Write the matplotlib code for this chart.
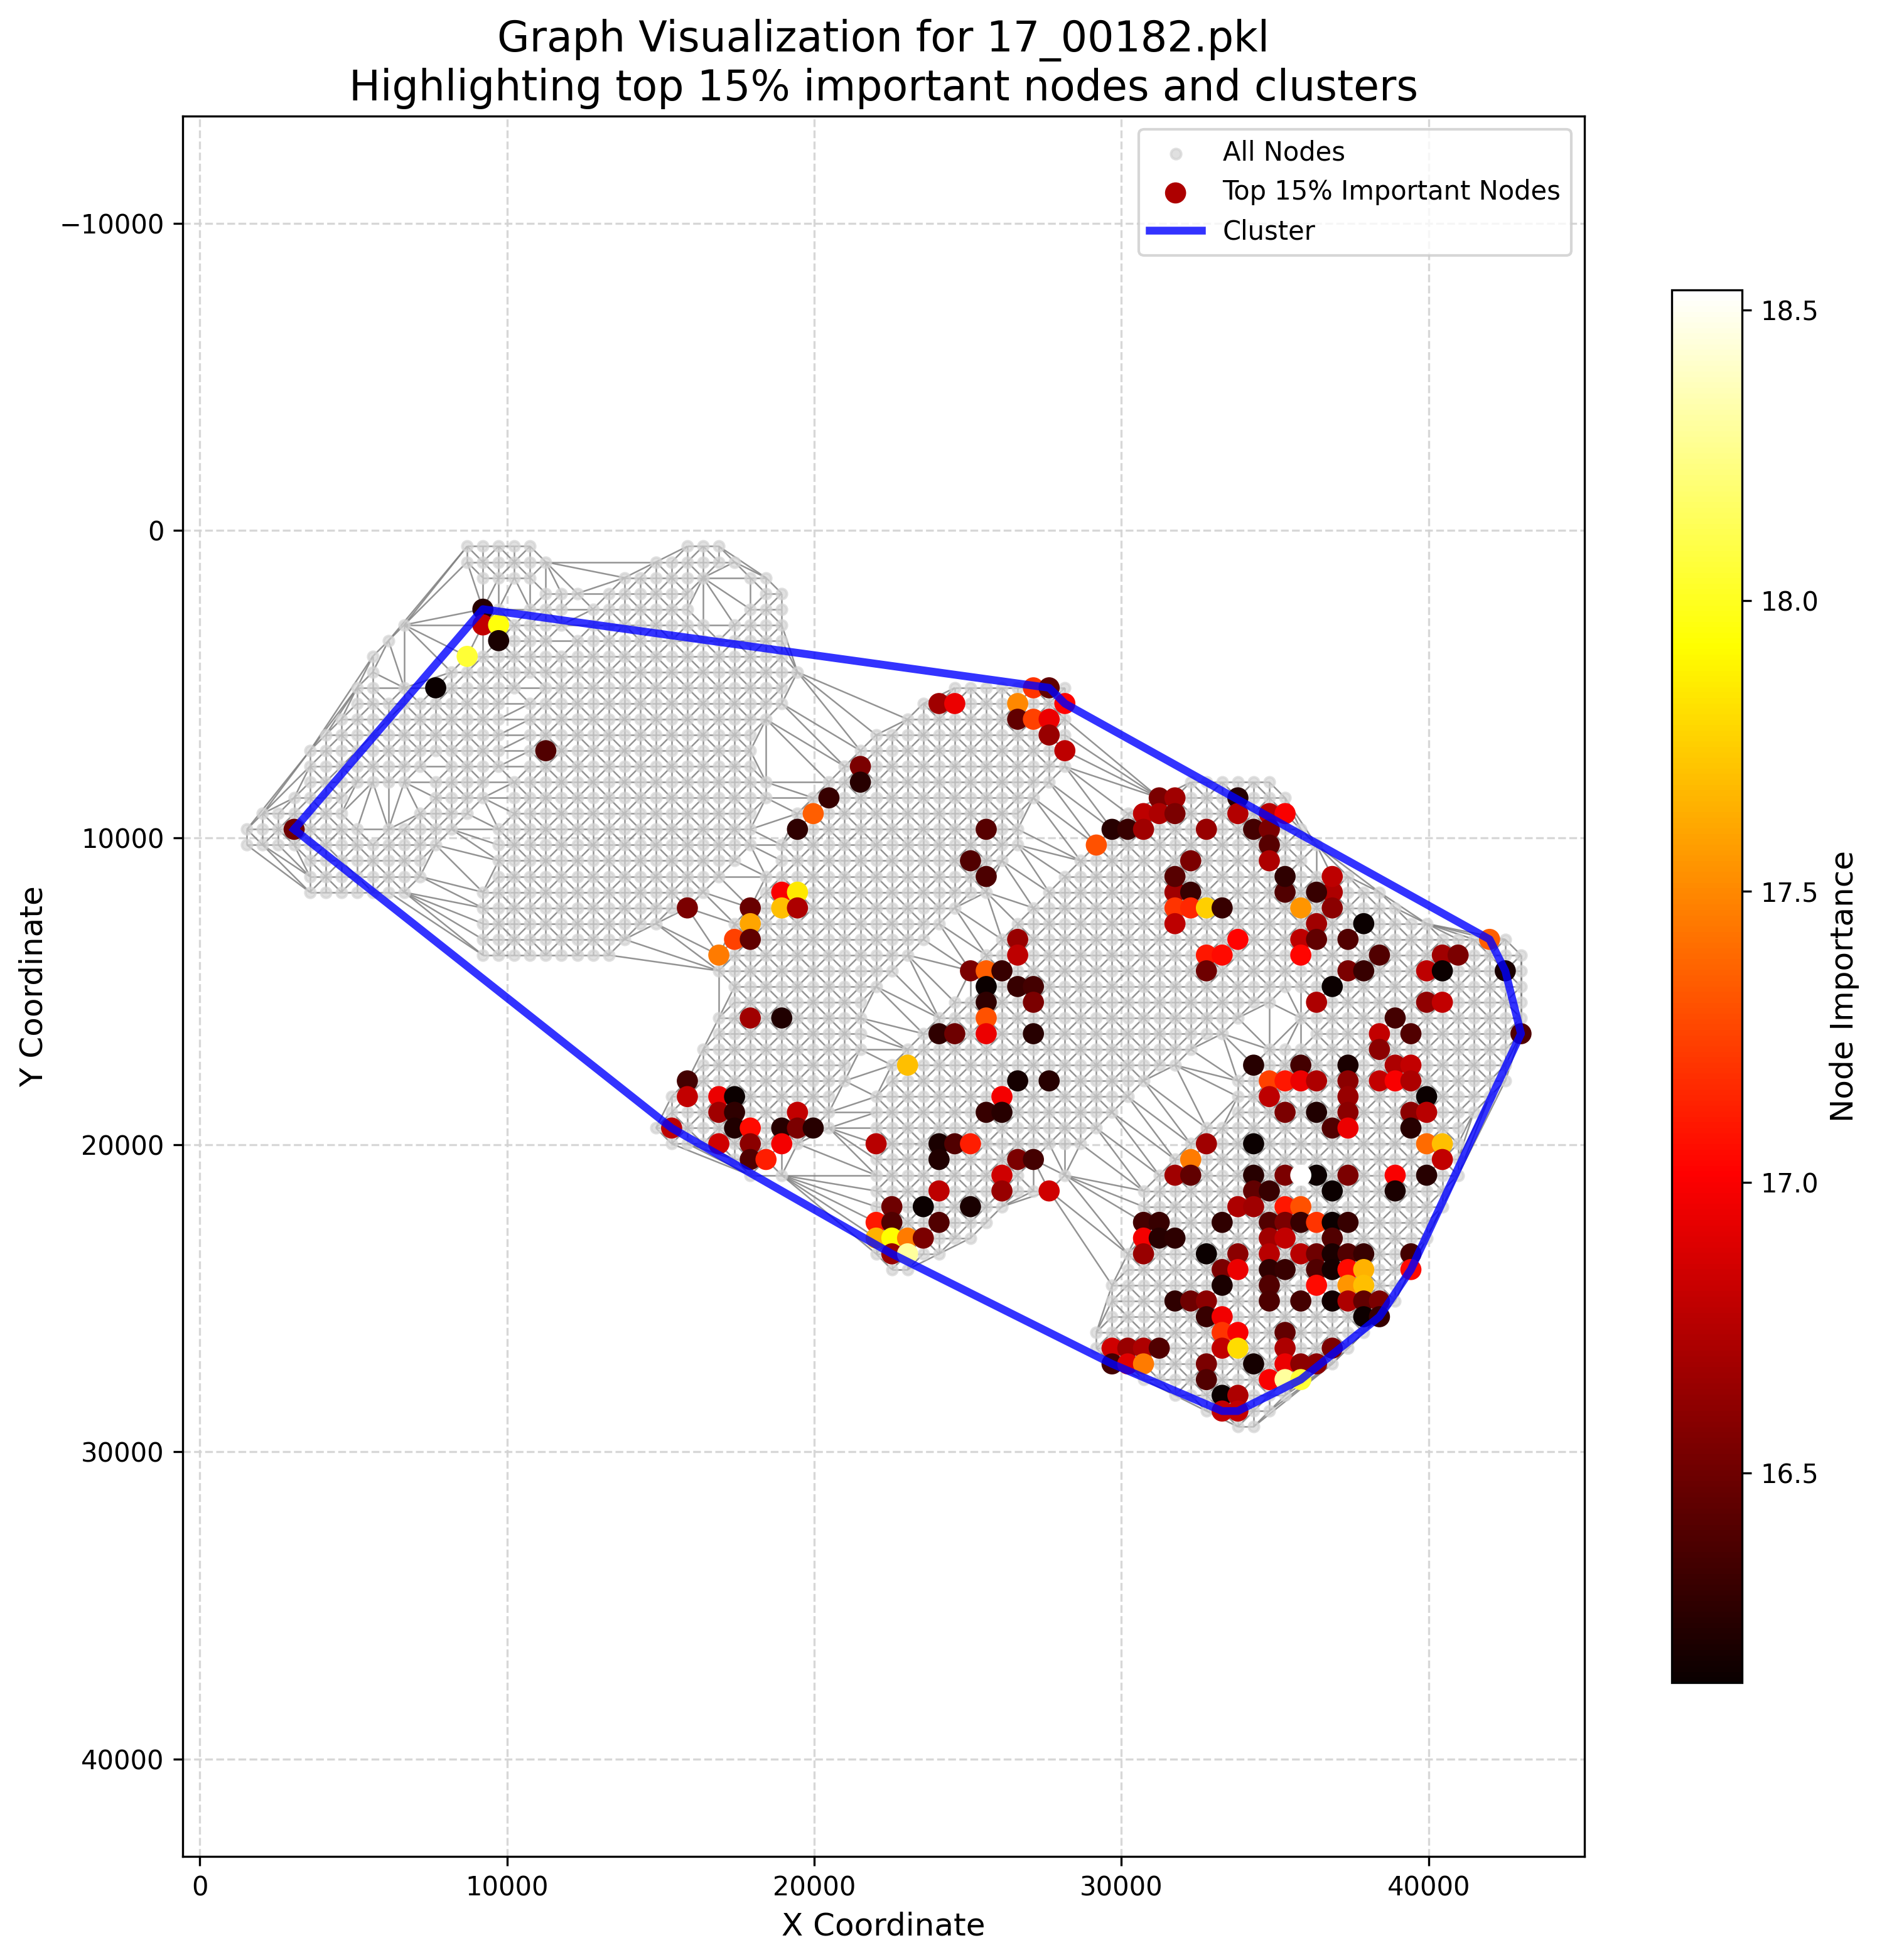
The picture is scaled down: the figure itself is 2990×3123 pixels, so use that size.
import matplotlib
matplotlib.use("Agg")
import matplotlib.pyplot as plt
from matplotlib.collections import LineCollection
from matplotlib.tri import Triangulation
import numpy as np

GRID_STEP = 512
MAX_EDGE_CELLS = 8.0
DIAGONAL_SWITCH_COL = 21

# Patch nodes as inclusive column runs, one entry per grid row.
node_rows = list(range(1, 58))
node_runs = [
    [(17, 21), (31, 33)],
    [(17, 22), (29, 34)],
    [(18, 21), (27, 32), (35, 36)],
    [(22, 24), (26, 31), (36, 37)],
    [(18, 19), (21, 23), (25, 31), (35, 37)],
    [(13, 13), (18, 23), (25, 32), (34, 37)],
    [(12, 12), (19, 22), (24, 37)],
    [(11, 11), (17, 37)],
    [(11, 11), (16, 38)],
    [(10, 11), (13, 13), (15, 20), (22, 37), (48, 55)],
    [(10, 19), (21, 37), (46, 55)],
    [(9, 19), (21, 36), (45, 55)],
    [(8, 19), (21, 35), (43, 55)],
    [(7, 19), (21, 35), (42, 55)],
    [(7, 14), (16, 19), (21, 35), (41, 55)],
    [(7, 13), (15, 18), (20, 36), (40, 54), (63, 68)],
    [(6, 9), (15, 18), (20, 36), (39, 53), (61, 69)],
    [(4, 9), (14, 17), (20, 35), (38, 52), (59, 69)],
    [(3, 10), (12, 16), (19, 35), (38, 52), (58, 70)],
    [(3, 15), (19, 35), (37, 52), (57, 71)],
    [(7, 14), (19, 34), (37, 51), (56, 70)],
    [(7, 14), (19, 33), (36, 50), (55, 73)],
    [(7, 13), (18, 32), (36, 50), (54, 75)],
    [(18, 31), (35, 48), (53, 76)],
    [(18, 29), (34, 47), (52, 78)],
    [(18, 27), (34, 46), (51, 83)],
    [(18, 26), (33, 45), (50, 84)],
    [(33, 44), (49, 84)],
    [(34, 43), (50, 84)],
    [(34, 42), (48, 68), (71, 84)],
    [(33, 42), (47, 66), (70, 84)],
    [(33, 42), (46, 65), (71, 84)],
    [(32, 42), (45, 63), (68, 83)],
    [(32, 41), (44, 62), (67, 83)],
    [(31, 41), (44, 60), (66, 83)],
    [(30, 40), (43, 59), (66, 82)],
    [(30, 40), (43, 58), (66, 81)],
    [(29, 40), (43, 57), (64, 80)],
    [(30, 38), (43, 56), (63, 80)],
    [(34, 36), (43, 53), (62, 80)],
    [(35, 35), (37, 37), (43, 52), (55, 55), (61, 80)],
    [(43, 54), (60, 79)],
    [(43, 51), (60, 79)],
    [(43, 50), (60, 78)],
    [(43, 49), (60, 78)],
    [(43, 47), (59, 77)],
    [(44, 45), (59, 77)],
    [(58, 76)],
    [(58, 76)],
    [(58, 75)],
    [(57, 74)],
    [(57, 73)],
    [(58, 72)],
    [(60, 70)],
    [(62, 69)],
    [(64, 68)],
    [(66, 67)],
]

# Highest-scoring nodes, grouped by grid row.
important_rows = [23, 5, 6, 7, 8, 10, 11, 12, 13, 14, 15, 16, 17, 18, 19, 20, 21, 22, 24, 25,
                  26, 27, 28, 29, 30, 31, 32, 33, 34, 35, 36, 37, 38, 39, 40, 41, 42, 43, 44,
                  45, 46, 47, 48, 49, 50, 51, 52, 53, 54, 55, 56]
important_cols = [
    [72, 37, 38, 62, 63, 69, 71], [18], [18, 19], [19], [17], [15, 53, 54],
    [47, 48, 52, 55], [52, 53, 54], [54], [22, 55], [42], [42], [40, 61, 62, 66],
    [39, 60, 61, 62, 66, 68, 69], [6, 38, 50, 58, 59, 60, 64, 67, 68], [57, 68], [49, 63, 68],
    [50, 62, 69, 72], [31, 35, 37, 38, 62, 63, 64, 65, 70, 72], [35, 62, 71, 74],
    [34, 35, 52, 66, 70, 71, 73, 82], [33, 52, 64, 65, 70, 75, 79, 80],
    [49, 50, 51, 64, 73, 74, 78, 79, 83], [50, 52, 53, 72], [50, 53, 71, 78, 79],
    [35, 37, 50, 76], [47, 48, 50, 53, 75, 77, 84], [75], [45, 67, 70, 73, 76, 77],
    [31, 52, 54, 68, 69, 70, 71, 73, 75, 76, 77], [31, 33, 34, 51, 68, 73, 78],
    [33, 34, 38, 50, 51, 69, 71, 73, 77, 78], [30, 34, 35, 37, 38, 39, 72, 73, 77],
    [33, 35, 37, 43, 47, 48, 49, 64, 67, 78, 79], [35, 36, 47, 52, 53, 63, 79],
    [51, 62, 63, 67, 69, 71, 73, 76, 78, 70], [47, 51, 54, 67, 68, 72, 76],
    [44, 46, 49, 66, 67, 69, 70], [43, 44, 47, 60, 61, 65, 68, 69, 70, 71, 72, 73],
    [43, 44, 45, 46, 60, 61, 62, 68, 69, 72], [44, 45, 60, 64, 66, 68, 70, 71, 72, 73, 74, 77],
    [65, 66, 68, 69, 71, 72, 73, 74, 77], [65, 68, 71, 73, 74],
    [62, 63, 64, 68, 70, 72, 73, 74, 75], [64, 65, 74, 75], [65, 66, 69],
    [58, 59, 60, 61, 65, 66, 69, 72], [58, 59, 60, 64, 67, 69, 70, 71], [64, 68, 69, 70],
    [65, 66], [65, 66],
]
important_scores = [
    [16.72, 17.0, 17.85, 16.68, 16.3, 16.4, 16.3], [16.25], [16.8, 17.95], [16.2], [18.05],
    [16.14, 17.2, 16.45], [16.68, 16.95, 17.5, 17.02], [16.45, 17.25, 16.95], [16.65],
    [16.4, 16.78], [16.55], [16.25], [16.3, 16.55, 16.68, 16.25],
    [17.35, 16.78, 16.72, 16.55, 16.74, 16.76, 17.0],
    [16.5, 16.28, 16.42, 16.25, 16.3, 16.68, 16.65, 16.35, 16.55], [17.3, 16.42], [16.4, 16.55, 16.72],
    [16.38, 16.42, 16.28, 16.78], [16.55, 16.48, 17.7, 16.72, 17.2, 17.15, 17.75, 16.3, 17.55, 16.6],
    [17.6, 16.78, 16.68, 16.14], [17.25, 16.45, 16.65, 17.02, 16.78, 16.45, 16.4, 17.35],
    [17.45, 16.78, 17.1, 17.05, 17.03, 16.4, 16.68, 16.55],
    [16.55, 17.35, 16.3, 16.5, 16.55, 16.3, 16.78, 16.14, 16.2], [16.14, 16.3, 16.35, 16.14],
    [16.28, 16.55, 16.72, 16.62, 16.8], [16.68, 16.22, 17.3, 16.35],
    [16.28, 16.5, 16.95, 16.25, 16.8, 16.4, 16.4], [16.6], [17.7, 16.25, 16.35, 16.2, 16.72, 16.8],
    [16.35, 16.18, 16.25, 17.25, 17.1, 16.95, 16.72, 16.6, 16.8, 17.0, 16.72],
    [16.8, 16.95, 16.14, 16.98, 16.78, 16.65, 16.14],
    [16.68, 16.28, 16.8, 16.3, 16.25, 16.55, 16.22, 16.6, 16.6, 16.76],
    [16.78, 16.22, 17.05, 16.25, 16.55, 16.25, 16.4, 16.95, 16.25],
    [16.85, 16.6, 16.98, 16.76, 16.2, 16.4, 17.12, 16.68, 16.14, 17.4, 17.7],
    [16.4, 17.12, 16.22, 16.55, 16.35, 17.45, 16.8],
    [16.85, 16.68, 16.45, 16.25, 16.55, 16.14, 16.55, 17.0, 16.25, 18.53],
    [16.78, 16.65, 16.85, 16.45, 16.3, 16.14, 16.2],
    [16.5, 16.14, 16.2, 16.72, 16.68, 17.1, 17.3],
    [17.1, 16.4, 16.4, 16.35, 16.3, 16.28, 16.4, 16.55, 16.3, 17.2, 16.14, 16.3],
    [17.65, 17.92, 17.45, 16.55, 16.98, 16.25, 16.27, 16.68, 16.8, 16.4],
    [16.65, 18.3, 16.65, 16.14, 16.6, 16.76, 16.76, 16.5, 16.2, 16.4, 16.3, 16.35],
    [16.55, 16.95, 16.28, 16.3, 16.4, 16.18, 17.05, 17.65, 17.05],
    [16.2, 16.4, 17.05, 17.55, 17.7],
    [16.28, 16.5, 16.6, 16.38, 16.35, 16.17, 16.72, 16.45, 16.55],
    [16.3, 16.97, 16.15, 16.3], [17.2, 17.0, 16.45],
    [16.85, 16.65, 16.72, 16.4, 16.8, 17.8, 16.72, 16.55],
    [16.35, 16.9, 17.45, 16.55, 16.18, 16.95, 16.6, 16.6],
    [16.4, 17.0, 18.3, 18.05], [16.14, 16.72], [16.8, 16.8],
]

# Cluster boundary vertices in grid units.
hull_cols = [6, 18, 54, 55, 82, 83, 84, 77, 75, 70, 66, 65, 58, 44, 30, 6]
hull_rows = [19, 5, 10, 11, 26, 28, 32, 47, 50, 54, 56, 56, 53, 46, 38, 19]

x_ticks = [0, 10000, 20000, 30000, 40000]
y_ticks = [-10000, 0, 10000, 20000, 30000, 40000]
score_ticks = [16.5, 17.0, 17.5, 18.0, 18.5]
SCORE_MIN, SCORE_MAX = 16.14, 18.534

imp_col = np.array([c for row in important_cols for c in row])
imp_row = np.array([r for r, row in zip(important_rows, important_cols) for _ in row])
imp_score = np.array([s for row in important_scores for s in row])

node_set = {(int(c), int(r)) for c, r in zip(imp_col, imp_row)}
for r, runs in zip(node_rows, node_runs):
    for a, b in runs:
        node_set.update((c, r) for c in range(a, b + 1))
nodes = sorted(node_set)
index = {n: k for k, n in enumerate(nodes)}
node_col = np.array([n[0] for n in nodes], float)
node_row = np.array([n[1] for n in nodes], float)


def link(edge_set, p, q):
    a, b = index.get(p), index.get(q)
    if a is not None and b is not None:
        edge_set.add((min(a, b), max(a, b)))


# Edges: grid links, one diagonal per full cell, and Delaunay links bridging patch gaps.
edges = set()
for c, r in nodes:
    link(edges, (c, r), (c + 1, r))
    link(edges, (c, r), (c, r + 1))
for c in range(int(node_col.min()) - 1, int(node_col.max()) + 1):
    for r in range(int(node_row.min()) - 1, int(node_row.max()) + 1):
        corners = [(c, r), (c + 1, r), (c, r + 1), (c + 1, r + 1)]
        if all(p in index for p in corners):
            parity = 0 if c < DIAGONAL_SWITCH_COL else 1
            if (c + r) % 2 == parity:
                link(edges, (c, r), (c + 1, r + 1))
            else:
                link(edges, (c + 1, r), (c, r + 1))
        else:
            link(edges, (c, r), (c + 1, r + 1))
            link(edges, (c + 1, r), (c, r + 1))
tri = Triangulation(node_col + 1e-4 * node_row, node_row + 1e-4 * node_col)
for a, b in tri.edges:
    length = np.hypot(node_col[a] - node_col[b], node_row[a] - node_row[b])
    if 1.5 < length <= MAX_EDGE_CELLS:
        edges.add((min(a, b), max(a, b)))
segments = [[(node_col[a] * GRID_STEP, node_row[a] * GRID_STEP),
             (node_col[b] * GRID_STEP, node_row[b] * GRID_STEP)] for a, b in edges]

W, H = 2990, 3123
fig = plt.figure(figsize=(W / 300, H / 300), dpi=300)
ax = fig.add_axes([291 / W, 1 - 2958 / H, (2524 - 291) / W, (2958 - 185) / H])
ax.set_axisbelow(True)
ax.grid(True, linestyle="--", color="lightgray", linewidth=0.8, alpha=0.9)

ax.add_collection(LineCollection(segments, colors="gray", linewidths=0.6, alpha=0.85, zorder=1))
ax.scatter(node_col * GRID_STEP, node_row * GRID_STEP, s=15, c="lightgray", alpha=0.7,
           zorder=2, label="All Nodes")
sc = ax.scatter(imp_col * GRID_STEP, imp_row * GRID_STEP, s=50, c=imp_score, cmap="hot",
                vmin=SCORE_MIN, vmax=SCORE_MAX, zorder=3, label="Top 15% Important Nodes")
ax.plot(np.array(hull_cols) * GRID_STEP, np.array(hull_rows) * GRID_STEP, color="blue",
        linewidth=3, alpha=0.8, zorder=4, label="Cluster")

ax.set_xlim(-556, 45074)
ax.set_ylim(43176, -13497)
ax.set_xticks(x_ticks)
ax.set_yticks(y_ticks)
ax.tick_params(labelsize=10)
ax.set_xlabel("X Coordinate", fontsize=12)
ax.set_ylabel("Y Coordinate", fontsize=12)
ax.set_title("Graph Visualization for 17_00182.pkl\nHighlighting top 15% important nodes and clusters",
             fontsize=16)
ax.legend(loc="upper right", fontsize=10)

cax = fig.add_axes([2663 / W, 1 - 2681 / H, (2775 - 2663) / W, (2681 - 462) / H])
cbar = fig.colorbar(sc, cax=cax, ticks=score_ticks)
cbar.set_label("Node Importance", fontsize=12)
cbar.ax.tick_params(labelsize=10)

fig.savefig("out.png", dpi=300)
